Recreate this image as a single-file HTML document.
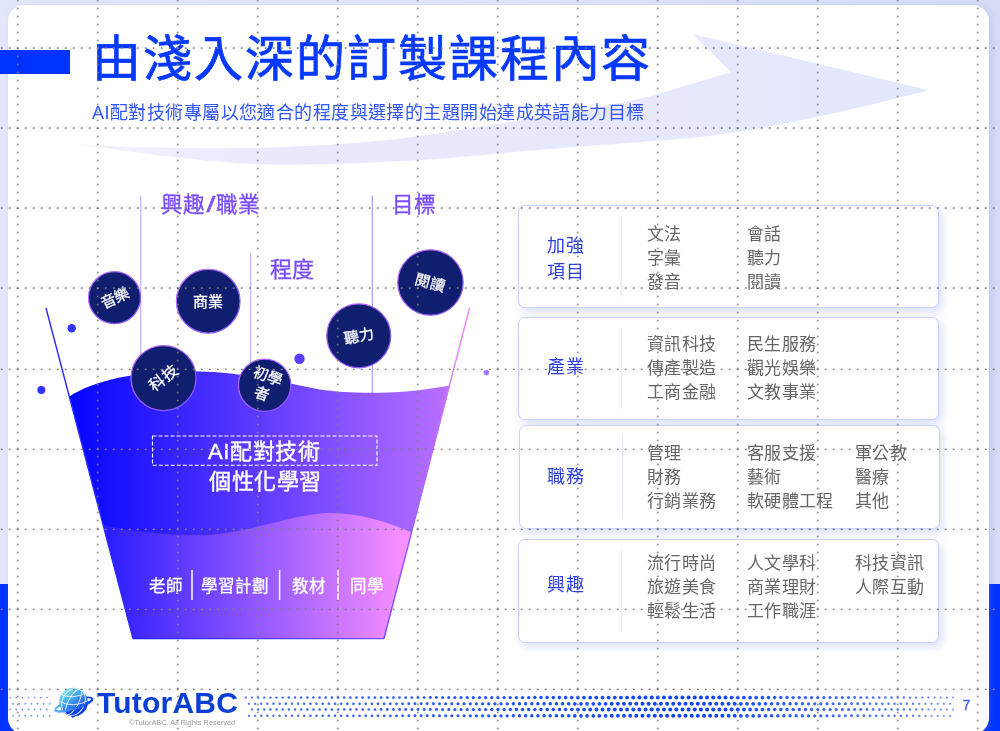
<!DOCTYPE html>
<html lang="zh-TW">
<head>
<meta charset="utf-8">
<style>
html,body{margin:0;padding:0;}
body{width:1000px;height:731px;position:relative;overflow:hidden;font-family:"Liberation Sans",sans-serif;background:linear-gradient(90deg,#e3e7fb 0%,#dfe5f9 50%,#d4dcf6 100%);}
.abs{position:absolute;white-space:nowrap;}
#blueL{position:absolute;left:0;top:584px;width:30px;height:147px;background:#0033ff;}
#blueR{position:absolute;left:960px;top:584px;width:40px;height:147px;background:#0033ff;}
#card{position:absolute;left:8px;top:5px;width:981px;height:729px;background:#fff;border-radius:16px;box-shadow:2px 2px 6px rgba(120,140,220,.25);}
.t{position:absolute;white-space:nowrap;line-height:1;}

.card{position:absolute;background:#fff;border:1px solid #c9d1ff;border-radius:7px;box-shadow:3px 4px 8px rgba(150,165,240,.35);box-sizing:border-box;}
.card .dv{position:absolute;left:102px;top:10px;bottom:10px;width:1px;background:#e4e8ff;}
.lab{position:absolute;color:#2b3ee0;font-size:18px;letter-spacing:0.6px;line-height:26.8px;white-space:nowrap;}
.col{position:absolute;color:#666;font-size:17px;line-height:24px;white-space:nowrap;letter-spacing:0.3px;}
</style>
</head>
<body>
<div id="blueL"></div>
<div id="blueR"></div>
<div id="card"></div>

<!-- swoosh -->
<svg class="abs" style="left:0;top:0" width="1000" height="731" viewBox="0 0 1000 731">
  <defs>
    <linearGradient id="sw" x1="0" y1="0" x2="1" y2="0">
      <stop offset="0" stop-color="#f4f2fe"/>
      <stop offset="0.25" stop-color="#ebe8fd"/>
      <stop offset="1" stop-color="#e4e8fc"/>
    </linearGradient>
  </defs>
  <path d="M73 143.4 C110 147, 200 149, 260 147.8 C330 146, 400 140, 450 131.5 C520 121, 600 108, 650 96.5 L731 72 L693 34 L929 90.2 C860 107, 790 126, 700 137 C640 143, 560 147, 450 158 C380 163, 300 166, 250 164 C200 161, 130 152, 73 143.4 Z" fill="url(#sw)"/>
</svg>

<!-- title -->
<div class="abs" style="left:0;top:49.6px;width:70px;height:24px;background:#0033ff"></div>
<div class="t" id="title" style="left:92px;top:34.6px;font-size:49px;letter-spacing:1.95px;color:#0639ff;-webkit-text-stroke:0.7px #0639ff;">由淺入深的訂製課程內容</div>
<div class="t" id="sub" style="left:92px;top:104px;font-size:18px;letter-spacing:0.44px;color:#3157ff;">AI配對技術專屬以您適合的程度與選擇的主題開始達成英語能力目標</div>


<!-- funnel -->
<svg class="abs" style="left:0;top:0" width="1000" height="731" viewBox="0 0 1000 731">
  <defs>
    <linearGradient id="gUp" gradientUnits="userSpaceOnUse" x1="69" y1="0" x2="450" y2="0">
      <stop offset="0" stop-color="#0205ff"/>
      <stop offset="1" stop-color="#bb70ff"/>
    </linearGradient>
    <linearGradient id="gLo" gradientUnits="userSpaceOnUse" x1="103" y1="0" x2="412" y2="0">
      <stop offset="0" stop-color="#291cff"/>
      <stop offset="1" stop-color="#fd92ff"/>
    </linearGradient>
    <linearGradient id="gR" gradientUnits="userSpaceOnUse" x1="0" y1="308" x2="0" y2="639">
      <stop offset="0" stop-color="#f28cff"/>
      <stop offset="1" stop-color="#6a48ff"/>
    </linearGradient>
    <linearGradient id="gB" gradientUnits="userSpaceOnUse" x1="133" y1="0" x2="384" y2="0">
      <stop offset="0" stop-color="#2020ff"/>
      <stop offset="1" stop-color="#7050ff"/>
    </linearGradient>
    <linearGradient id="gC" x1="0" y1="0" x2="1" y2="1">
      <stop offset="0" stop-color="#c070ff"/>
      <stop offset="1" stop-color="#8050ff"/>
    </linearGradient>
  </defs>
  <!-- vertical guide lines -->
  <line x1="140.7" y1="196" x2="140.7" y2="360" stroke="#c9b6ff" stroke-width="1.3"/>
  <line x1="250.6" y1="253" x2="250.6" y2="400" stroke="#c9b6ff" stroke-width="1.3"/>
  <line x1="372.3" y1="195.4" x2="372.3" y2="395" stroke="#b9a2ff" stroke-width="1.3"/>
  <!-- upper fill -->
  <path d="M69.4 396.5 C 95 380, 140 370, 200 371.5 C 240 372, 275 381, 320 389.5 C 350 394, 400 395, 450 385.5 L384 638.6 L133 638.6 Z" fill="url(#gUp)"/>
  <!-- lower fill -->
  <path d="M103.2 525 C 130 531, 160 535, 200 535.3 C 240 535, 280 518, 320 513.5 C 350 511, 385 520, 412.2 533 L384 638.6 L133 638.6 Z" fill="url(#gLo)"/>
  <!-- outline -->
  <line x1="46" y1="308" x2="133" y2="638.6" stroke="#2a2aff" stroke-width="1.4"/>
  <line x1="469.5" y1="308" x2="384" y2="638.6" stroke="url(#gR)" stroke-width="1.4"/>
  <line x1="133" y1="638.6" x2="384" y2="638.6" stroke="url(#gB)" stroke-width="1.4"/>
  <!-- dots -->
  <circle cx="71.7" cy="328.2" r="4.2" fill="#3333ff"/>
  <circle cx="41.3" cy="390" r="4" fill="#3333ff"/>
  <circle cx="299.5" cy="358.8" r="5.2" fill="#5a3cff"/>
  <circle cx="486.4" cy="372.6" r="2.8" fill="#a77aff"/>
  <!-- circles -->
  <g fill="#0f1e6e" stroke="url(#gC)" stroke-width="1.25">
    <circle cx="114.5" cy="297.6" r="26"/>
    <circle cx="208.2" cy="301.2" r="31.8"/>
    <circle cx="163.5" cy="378" r="32.5"/>
    <circle cx="264.6" cy="385.2" r="26.2"/>
    <circle cx="358.7" cy="335.8" r="32"/>
    <circle cx="430.4" cy="282.5" r="32.7"/>
  </g>
  <!-- dashed box -->
  <rect x="152.5" y="436" width="224.5" height="29.2" fill="none" stroke="#fff" stroke-width="1.1" stroke-dasharray="4 2"/>
  <!-- separators -->
  <g stroke="#fff" stroke-width="1.5">
    <line x1="192" y1="570" x2="192" y2="600"/>
    <line x1="279.6" y1="570" x2="279.6" y2="600"/>
    <line x1="338" y1="570" x2="338" y2="600"/>
  </g>
</svg>
<div class="t" id="l1" style="left:160.5px;top:194.5px;font-size:21.5px;color:#7b4dff;-webkit-text-stroke:0.35px #7b4dff;">興趣<span style="display:inline-block;transform:scaleX(1.5);margin:0 3px">/</span>職業</div>
<div class="t" id="l2" style="left:269.5px;top:258.5px;font-size:22px;color:#7b4dff;-webkit-text-stroke:0.35px #7b4dff;">程度</div>
<div class="t" id="l3" style="left:392px;top:195px;font-size:21.5px;color:#7b4dff;-webkit-text-stroke:0.35px #7b4dff;">目標</div>

<div class="t" style="left:114.5px;top:297.6px;font-size:15px;color:#fff;-webkit-text-stroke:0.3px #fff;transform:translate(-50%,-50%) rotate(-25deg);">音樂</div>
<div class="t" style="left:208.2px;top:301.2px;font-size:15px;color:#fff;-webkit-text-stroke:0.3px #fff;transform:translate(-50%,-50%);">商業</div>
<div class="t" style="left:163.5px;top:378px;font-size:15.5px;color:#fff;-webkit-text-stroke:0.3px #fff;transform:translate(-50%,-50%) rotate(-37deg);">科技</div>
<div class="t" style="left:264.6px;top:385.2px;font-size:15px;line-height:18px;color:#fff;-webkit-text-stroke:0.3px #fff;text-align:center;white-space:normal;width:34px;transform:translate(-50%,-50%) rotate(20deg);">初學<br>者</div>
<div class="t" style="left:358.7px;top:335.8px;font-size:15px;color:#fff;-webkit-text-stroke:0.3px #fff;transform:translate(-50%,-50%) rotate(-10deg);">聽力</div>
<div class="t" style="left:430.4px;top:282.5px;font-size:15px;color:#fff;-webkit-text-stroke:0.3px #fff;transform:translate(-50%,-50%) rotate(15deg);">閱讀</div>

<div class="t" id="f1" style="left:208px;top:441px;font-size:22px;letter-spacing:0.6px;color:#fff;-webkit-text-stroke:0.4px #fff;">AI配對技術</div>
<div class="t" id="f2" style="left:209px;top:471px;font-size:22px;letter-spacing:0.6px;color:#fff;-webkit-text-stroke:0.4px #fff;">個性化學習</div>
<div class="t" id="b1" style="left:149px;top:578px;font-size:16.5px;color:#fff;-webkit-text-stroke:0.3px #fff;">老師</div>
<div class="t" id="b2" style="left:201px;top:578px;font-size:16.5px;color:#fff;-webkit-text-stroke:0.3px #fff;">學習計劃</div>
<div class="t" id="b3" style="left:292px;top:578px;font-size:16.5px;color:#fff;-webkit-text-stroke:0.3px #fff;">教材</div>
<div class="t" id="b4" style="left:350px;top:578px;font-size:16.5px;color:#fff;-webkit-text-stroke:0.3px #fff;">同學</div>


<!-- cards -->
<div class="card" style="left:518px;top:204.5px;width:421px;height:103px;"><div class="dv"></div></div>
<div class="card" style="left:518px;top:317px;width:421px;height:103px;"><div class="dv"></div></div>
<div class="card" style="left:519px;top:425px;width:421px;height:103.5px;"><div class="dv"></div></div>
<div class="card" style="left:518px;top:539px;width:421px;height:103.5px;"><div class="dv"></div></div>

<div class="lab" id="lab1" style="left:547px;top:232.5px;">加強<br>項目</div>
<div class="lab" id="lab2" style="left:547px;top:353.5px;">產業</div>
<div class="lab" id="lab3" style="left:547px;top:463.5px;">職務</div>
<div class="lab" id="lab4" style="left:547px;top:571.5px;">興趣</div>

<div class="col" id="col5" style="left:647px;top:223.3px;">文法<br>字彙<br>發音</div>
<div class="col" id="col6" style="left:747px;top:223.3px;">會話<br>聽力<br>閱讀</div>
<div class="col" id="col7" style="left:647px;top:333.3px;">資訊科技<br>傳產製造<br>工商金融</div>
<div class="col" id="col8" style="left:747px;top:333.3px;">民生服務<br>觀光娛樂<br>文教事業</div>
<div class="col" id="col9" style="left:647px;top:442.3px;">管理<br>財務<br>行銷業務</div>
<div class="col" id="col10" style="left:747px;top:442.3px;">客服支援<br>藝術<br>軟硬體工程</div>
<div class="col" id="col11" style="left:855px;top:442.3px;">軍公教<br>醫療<br>其他</div>
<div class="col" id="col12" style="left:647px;top:552.3px;">流行時尚<br>旅遊美食<br>輕鬆生活</div>
<div class="col" id="col13" style="left:747px;top:552.3px;">人文學科<br>商業理財<br>工作職涯</div>
<div class="col" id="col14" style="left:855px;top:552.3px;">科技資訊<br>人際互動</div>


<!-- footer -->
<svg class="abs" style="left:0;top:0" width="1000" height="731" viewBox="0 0 1000 731">
  <g fill="#0d44ee"><circle cx="245.8" cy="697.6" r="1.15" fill-opacity="0.75"/><circle cx="252.0" cy="697.6" r="1.16" fill-opacity="0.76"/><circle cx="258.1" cy="697.6" r="1.17" fill-opacity="0.76"/><circle cx="264.2" cy="697.6" r="1.18" fill-opacity="0.76"/><circle cx="270.4" cy="697.6" r="1.19" fill-opacity="0.77"/><circle cx="276.5" cy="697.6" r="1.20" fill-opacity="0.77"/><circle cx="282.7" cy="697.6" r="1.21" fill-opacity="0.78"/><circle cx="288.8" cy="697.6" r="1.23" fill-opacity="0.78"/><circle cx="295.0" cy="697.6" r="1.24" fill-opacity="0.79"/><circle cx="301.1" cy="697.6" r="1.25" fill-opacity="0.79"/><circle cx="307.3" cy="697.6" r="1.26" fill-opacity="0.80"/><circle cx="313.4" cy="697.6" r="1.27" fill-opacity="0.80"/><circle cx="319.6" cy="697.6" r="1.28" fill-opacity="0.80"/><circle cx="325.7" cy="697.6" r="1.29" fill-opacity="0.81"/><circle cx="331.9" cy="697.6" r="1.30" fill-opacity="0.81"/><circle cx="338.0" cy="697.6" r="1.31" fill-opacity="0.82"/><circle cx="344.2" cy="697.6" r="1.32" fill-opacity="0.82"/><circle cx="350.3" cy="697.6" r="1.33" fill-opacity="0.83"/><circle cx="356.5" cy="697.6" r="1.34" fill-opacity="0.83"/><circle cx="362.6" cy="697.6" r="1.35" fill-opacity="0.84"/><circle cx="368.8" cy="697.6" r="1.36" fill-opacity="0.84"/><circle cx="374.9" cy="697.6" r="1.37" fill-opacity="0.85"/><circle cx="381.1" cy="697.6" r="1.38" fill-opacity="0.85"/><circle cx="387.2" cy="697.6" r="1.39" fill-opacity="0.85"/><circle cx="393.4" cy="697.6" r="1.40" fill-opacity="0.86"/><circle cx="399.5" cy="697.6" r="1.41" fill-opacity="0.86"/><circle cx="405.7" cy="697.6" r="1.43" fill-opacity="0.87"/><circle cx="411.8" cy="697.6" r="1.44" fill-opacity="0.87"/><circle cx="418.0" cy="697.6" r="1.45" fill-opacity="0.88"/><circle cx="424.1" cy="697.6" r="1.46" fill-opacity="0.88"/><circle cx="430.3" cy="697.6" r="1.48" fill-opacity="0.89"/><circle cx="436.4" cy="697.6" r="1.49" fill-opacity="0.89"/><circle cx="442.6" cy="697.6" r="1.51" fill-opacity="0.89"/><circle cx="448.7" cy="697.6" r="1.52" fill-opacity="0.90"/><circle cx="454.9" cy="697.6" r="1.54" fill-opacity="0.90"/><circle cx="461.0" cy="697.6" r="1.55" fill-opacity="0.90"/><circle cx="467.2" cy="697.6" r="1.57" fill-opacity="0.91"/><circle cx="473.3" cy="697.6" r="1.58" fill-opacity="0.91"/><circle cx="479.5" cy="697.6" r="1.60" fill-opacity="0.91"/><circle cx="485.6" cy="697.6" r="1.61" fill-opacity="0.91"/><circle cx="491.8" cy="697.6" r="1.63" fill-opacity="0.92"/><circle cx="497.9" cy="697.6" r="1.64" fill-opacity="0.92"/><circle cx="504.1" cy="697.6" r="1.66" fill-opacity="0.92"/><circle cx="510.2" cy="697.6" r="1.68" fill-opacity="0.92"/><circle cx="516.4" cy="697.6" r="1.69" fill-opacity="0.93"/><circle cx="522.5" cy="697.6" r="1.71" fill-opacity="0.93"/><circle cx="528.7" cy="697.6" r="1.72" fill-opacity="0.93"/><circle cx="534.8" cy="697.6" r="1.74" fill-opacity="0.93"/><circle cx="541.0" cy="697.6" r="1.75" fill-opacity="0.94"/><circle cx="547.1" cy="697.6" r="1.77" fill-opacity="0.94"/><circle cx="553.3" cy="697.6" r="1.78" fill-opacity="0.94"/><circle cx="559.4" cy="697.6" r="1.80" fill-opacity="0.94"/><circle cx="565.6" cy="697.6" r="1.81" fill-opacity="0.95"/><circle cx="571.7" cy="697.6" r="1.83" fill-opacity="0.95"/><circle cx="577.9" cy="697.6" r="1.84" fill-opacity="0.95"/><circle cx="584.0" cy="697.6" r="1.86" fill-opacity="0.95"/><circle cx="590.2" cy="697.6" r="1.88" fill-opacity="0.96"/><circle cx="596.3" cy="697.6" r="1.89" fill-opacity="0.96"/><circle cx="602.5" cy="697.6" r="1.91" fill-opacity="0.96"/><circle cx="608.6" cy="697.6" r="1.92" fill-opacity="0.96"/><circle cx="614.8" cy="697.6" r="1.94" fill-opacity="0.97"/><circle cx="620.9" cy="697.6" r="1.95" fill-opacity="0.97"/><circle cx="627.1" cy="697.6" r="1.97" fill-opacity="0.97"/><circle cx="633.2" cy="697.6" r="1.98" fill-opacity="0.97"/><circle cx="639.4" cy="697.6" r="2.00" fill-opacity="0.98"/><circle cx="645.5" cy="697.6" r="2.00" fill-opacity="0.98"/><circle cx="651.7" cy="697.6" r="2.00" fill-opacity="0.98"/><circle cx="657.8" cy="697.6" r="2.00" fill-opacity="0.98"/><circle cx="664.0" cy="697.6" r="2.00" fill-opacity="0.99"/><circle cx="670.1" cy="697.6" r="2.00" fill-opacity="0.99"/><circle cx="676.3" cy="697.6" r="2.00" fill-opacity="0.99"/><circle cx="682.4" cy="697.6" r="2.00" fill-opacity="0.99"/><circle cx="688.6" cy="697.6" r="2.00" fill-opacity="1.00"/><circle cx="694.7" cy="697.6" r="2.00" fill-opacity="1.00"/><circle cx="700.9" cy="697.6" r="2.00" fill-opacity="1.00"/><circle cx="707.0" cy="697.6" r="2.00" fill-opacity="0.99"/><circle cx="713.2" cy="697.6" r="2.00" fill-opacity="0.98"/><circle cx="719.3" cy="697.6" r="2.00" fill-opacity="0.97"/><circle cx="725.5" cy="697.6" r="1.98" fill-opacity="0.96"/><circle cx="731.6" cy="697.6" r="1.96" fill-opacity="0.95"/><circle cx="737.8" cy="697.6" r="1.93" fill-opacity="0.94"/><circle cx="743.9" cy="697.6" r="1.91" fill-opacity="0.93"/><circle cx="750.1" cy="697.6" r="1.88" fill-opacity="0.92"/><circle cx="756.2" cy="697.6" r="1.86" fill-opacity="0.91"/><circle cx="762.4" cy="697.6" r="1.84" fill-opacity="0.90"/><circle cx="768.5" cy="697.6" r="1.81" fill-opacity="0.89"/><circle cx="774.7" cy="697.6" r="1.79" fill-opacity="0.88"/><circle cx="780.8" cy="697.6" r="1.77" fill-opacity="0.87"/><circle cx="787.0" cy="697.6" r="1.74" fill-opacity="0.86"/><circle cx="793.1" cy="697.6" r="1.72" fill-opacity="0.85"/><circle cx="799.3" cy="697.6" r="1.70" fill-opacity="0.84"/><circle cx="805.4" cy="697.6" r="1.67" fill-opacity="0.83"/><circle cx="811.6" cy="697.6" r="1.65" fill-opacity="0.82"/><circle cx="817.7" cy="697.6" r="1.62" fill-opacity="0.81"/><circle cx="823.9" cy="697.6" r="1.60" fill-opacity="0.80"/><circle cx="830.0" cy="697.6" r="1.58" fill-opacity="0.80"/><circle cx="836.2" cy="697.6" r="1.55" fill-opacity="0.79"/><circle cx="842.3" cy="697.6" r="1.53" fill-opacity="0.78"/><circle cx="848.5" cy="697.6" r="1.51" fill-opacity="0.77"/><circle cx="854.6" cy="697.6" r="1.48" fill-opacity="0.76"/><circle cx="860.8" cy="697.6" r="1.45" fill-opacity="0.75"/><circle cx="866.9" cy="697.6" r="1.42" fill-opacity="0.74"/><circle cx="873.1" cy="697.6" r="1.39" fill-opacity="0.73"/><circle cx="879.2" cy="697.6" r="1.36" fill-opacity="0.72"/><circle cx="885.4" cy="697.6" r="1.33" fill-opacity="0.71"/><circle cx="891.5" cy="697.6" r="1.30" fill-opacity="0.70"/><circle cx="897.7" cy="697.6" r="1.27" fill-opacity="0.69"/><circle cx="903.8" cy="697.6" r="1.24" fill-opacity="0.68"/><circle cx="910.0" cy="697.6" r="1.21" fill-opacity="0.67"/><circle cx="916.1" cy="697.6" r="1.18" fill-opacity="0.66"/><circle cx="922.3" cy="697.6" r="1.15" fill-opacity="0.65"/><circle cx="928.4" cy="697.6" r="1.12" fill-opacity="0.64"/><circle cx="934.6" cy="697.6" r="1.09" fill-opacity="0.63"/><circle cx="940.7" cy="697.6" r="1.06" fill-opacity="0.62"/><circle cx="946.9" cy="697.6" r="1.03" fill-opacity="0.61"/><circle cx="953.0" cy="697.6" r="1.00" fill-opacity="0.60"/><circle cx="248.9" cy="703.8" r="1.16" fill-opacity="0.75"/><circle cx="255.1" cy="703.8" r="1.17" fill-opacity="0.76"/><circle cx="261.2" cy="703.8" r="1.18" fill-opacity="0.76"/><circle cx="267.3" cy="703.8" r="1.19" fill-opacity="0.77"/><circle cx="273.5" cy="703.8" r="1.20" fill-opacity="0.77"/><circle cx="279.6" cy="703.8" r="1.21" fill-opacity="0.78"/><circle cx="285.8" cy="703.8" r="1.22" fill-opacity="0.78"/><circle cx="291.9" cy="703.8" r="1.23" fill-opacity="0.78"/><circle cx="298.1" cy="703.8" r="1.24" fill-opacity="0.79"/><circle cx="304.2" cy="703.8" r="1.25" fill-opacity="0.79"/><circle cx="310.4" cy="703.8" r="1.26" fill-opacity="0.80"/><circle cx="316.5" cy="703.8" r="1.27" fill-opacity="0.80"/><circle cx="322.7" cy="703.8" r="1.28" fill-opacity="0.81"/><circle cx="328.8" cy="703.8" r="1.29" fill-opacity="0.81"/><circle cx="335.0" cy="703.8" r="1.30" fill-opacity="0.82"/><circle cx="341.1" cy="703.8" r="1.31" fill-opacity="0.82"/><circle cx="347.3" cy="703.8" r="1.33" fill-opacity="0.82"/><circle cx="353.4" cy="703.8" r="1.34" fill-opacity="0.83"/><circle cx="359.6" cy="703.8" r="1.35" fill-opacity="0.83"/><circle cx="365.7" cy="703.8" r="1.36" fill-opacity="0.84"/><circle cx="371.9" cy="703.8" r="1.37" fill-opacity="0.84"/><circle cx="378.0" cy="703.8" r="1.38" fill-opacity="0.85"/><circle cx="384.2" cy="703.8" r="1.39" fill-opacity="0.85"/><circle cx="390.3" cy="703.8" r="1.40" fill-opacity="0.86"/><circle cx="396.5" cy="703.8" r="1.41" fill-opacity="0.86"/><circle cx="402.6" cy="703.8" r="1.42" fill-opacity="0.87"/><circle cx="408.8" cy="703.8" r="1.43" fill-opacity="0.87"/><circle cx="414.9" cy="703.8" r="1.44" fill-opacity="0.87"/><circle cx="421.1" cy="703.8" r="1.45" fill-opacity="0.88"/><circle cx="427.2" cy="703.8" r="1.47" fill-opacity="0.88"/><circle cx="433.4" cy="703.8" r="1.48" fill-opacity="0.89"/><circle cx="439.5" cy="703.8" r="1.50" fill-opacity="0.89"/><circle cx="445.7" cy="703.8" r="1.51" fill-opacity="0.90"/><circle cx="451.8" cy="703.8" r="1.53" fill-opacity="0.90"/><circle cx="458.0" cy="703.8" r="1.54" fill-opacity="0.90"/><circle cx="464.1" cy="703.8" r="1.56" fill-opacity="0.91"/><circle cx="470.3" cy="703.8" r="1.58" fill-opacity="0.91"/><circle cx="476.4" cy="703.8" r="1.59" fill-opacity="0.91"/><circle cx="482.6" cy="703.8" r="1.61" fill-opacity="0.91"/><circle cx="488.7" cy="703.8" r="1.62" fill-opacity="0.92"/><circle cx="494.9" cy="703.8" r="1.64" fill-opacity="0.92"/><circle cx="501.0" cy="703.8" r="1.65" fill-opacity="0.92"/><circle cx="507.2" cy="703.8" r="1.67" fill-opacity="0.92"/><circle cx="513.3" cy="703.8" r="1.68" fill-opacity="0.93"/><circle cx="519.5" cy="703.8" r="1.70" fill-opacity="0.93"/><circle cx="525.6" cy="703.8" r="1.71" fill-opacity="0.93"/><circle cx="531.8" cy="703.8" r="1.73" fill-opacity="0.93"/><circle cx="537.9" cy="703.8" r="1.74" fill-opacity="0.94"/><circle cx="544.1" cy="703.8" r="1.76" fill-opacity="0.94"/><circle cx="550.2" cy="703.8" r="1.78" fill-opacity="0.94"/><circle cx="556.4" cy="703.8" r="1.79" fill-opacity="0.94"/><circle cx="562.5" cy="703.8" r="1.81" fill-opacity="0.95"/><circle cx="568.7" cy="703.8" r="1.82" fill-opacity="0.95"/><circle cx="574.8" cy="703.8" r="1.84" fill-opacity="0.95"/><circle cx="581.0" cy="703.8" r="1.85" fill-opacity="0.95"/><circle cx="587.1" cy="703.8" r="1.87" fill-opacity="0.95"/><circle cx="593.3" cy="703.8" r="1.88" fill-opacity="0.96"/><circle cx="599.4" cy="703.8" r="1.90" fill-opacity="0.96"/><circle cx="605.6" cy="703.8" r="1.91" fill-opacity="0.96"/><circle cx="611.7" cy="703.8" r="1.93" fill-opacity="0.96"/><circle cx="617.9" cy="703.8" r="1.94" fill-opacity="0.97"/><circle cx="624.0" cy="703.8" r="1.96" fill-opacity="0.97"/><circle cx="630.2" cy="703.8" r="1.98" fill-opacity="0.97"/><circle cx="636.3" cy="703.8" r="1.99" fill-opacity="0.97"/><circle cx="642.5" cy="703.8" r="2.00" fill-opacity="0.98"/><circle cx="648.6" cy="703.8" r="2.00" fill-opacity="0.98"/><circle cx="654.8" cy="703.8" r="2.00" fill-opacity="0.98"/><circle cx="660.9" cy="703.8" r="2.00" fill-opacity="0.98"/><circle cx="667.1" cy="703.8" r="2.00" fill-opacity="0.99"/><circle cx="673.2" cy="703.8" r="2.00" fill-opacity="0.99"/><circle cx="679.4" cy="703.8" r="2.00" fill-opacity="0.99"/><circle cx="685.5" cy="703.8" r="2.00" fill-opacity="0.99"/><circle cx="691.7" cy="703.8" r="2.00" fill-opacity="1.00"/><circle cx="697.8" cy="703.8" r="2.00" fill-opacity="1.00"/><circle cx="704.0" cy="703.8" r="2.00" fill-opacity="0.99"/><circle cx="710.1" cy="703.8" r="2.00" fill-opacity="0.98"/><circle cx="716.3" cy="703.8" r="2.00" fill-opacity="0.97"/><circle cx="722.4" cy="703.8" r="1.99" fill-opacity="0.96"/><circle cx="728.6" cy="703.8" r="1.97" fill-opacity="0.95"/><circle cx="734.7" cy="703.8" r="1.94" fill-opacity="0.95"/><circle cx="740.9" cy="703.8" r="1.92" fill-opacity="0.94"/><circle cx="747.0" cy="703.8" r="1.90" fill-opacity="0.93"/><circle cx="753.2" cy="703.8" r="1.87" fill-opacity="0.92"/><circle cx="759.3" cy="703.8" r="1.85" fill-opacity="0.91"/><circle cx="765.5" cy="703.8" r="1.83" fill-opacity="0.90"/><circle cx="771.6" cy="703.8" r="1.80" fill-opacity="0.89"/><circle cx="777.8" cy="703.8" r="1.78" fill-opacity="0.88"/><circle cx="783.9" cy="703.8" r="1.75" fill-opacity="0.87"/><circle cx="790.1" cy="703.8" r="1.73" fill-opacity="0.86"/><circle cx="796.2" cy="703.8" r="1.71" fill-opacity="0.85"/><circle cx="802.4" cy="703.8" r="1.68" fill-opacity="0.84"/><circle cx="808.5" cy="703.8" r="1.66" fill-opacity="0.83"/><circle cx="814.7" cy="703.8" r="1.64" fill-opacity="0.82"/><circle cx="820.8" cy="703.8" r="1.61" fill-opacity="0.81"/><circle cx="827.0" cy="703.8" r="1.59" fill-opacity="0.80"/><circle cx="833.1" cy="703.8" r="1.56" fill-opacity="0.79"/><circle cx="839.3" cy="703.8" r="1.54" fill-opacity="0.78"/><circle cx="845.4" cy="703.8" r="1.52" fill-opacity="0.77"/><circle cx="851.6" cy="703.8" r="1.49" fill-opacity="0.76"/><circle cx="857.7" cy="703.8" r="1.46" fill-opacity="0.75"/><circle cx="863.9" cy="703.8" r="1.43" fill-opacity="0.74"/><circle cx="870.0" cy="703.8" r="1.40" fill-opacity="0.73"/><circle cx="876.2" cy="703.8" r="1.37" fill-opacity="0.72"/><circle cx="882.3" cy="703.8" r="1.34" fill-opacity="0.71"/><circle cx="888.5" cy="703.8" r="1.31" fill-opacity="0.70"/><circle cx="894.6" cy="703.8" r="1.29" fill-opacity="0.69"/><circle cx="900.8" cy="703.8" r="1.26" fill-opacity="0.68"/><circle cx="906.9" cy="703.8" r="1.23" fill-opacity="0.67"/><circle cx="913.1" cy="703.8" r="1.20" fill-opacity="0.66"/><circle cx="919.2" cy="703.8" r="1.17" fill-opacity="0.65"/><circle cx="925.4" cy="703.8" r="1.14" fill-opacity="0.65"/><circle cx="931.5" cy="703.8" r="1.11" fill-opacity="0.64"/><circle cx="937.7" cy="703.8" r="1.08" fill-opacity="0.63"/><circle cx="943.8" cy="703.8" r="1.05" fill-opacity="0.62"/><circle cx="950.0" cy="703.8" r="1.02" fill-opacity="0.61"/><circle cx="252.0" cy="709.5" r="1.16" fill-opacity="0.76"/><circle cx="258.1" cy="709.5" r="1.17" fill-opacity="0.76"/><circle cx="264.3" cy="709.5" r="1.18" fill-opacity="0.76"/><circle cx="270.4" cy="709.5" r="1.19" fill-opacity="0.77"/><circle cx="276.6" cy="709.5" r="1.20" fill-opacity="0.77"/><circle cx="282.7" cy="709.5" r="1.21" fill-opacity="0.78"/><circle cx="288.9" cy="709.5" r="1.23" fill-opacity="0.78"/><circle cx="295.0" cy="709.5" r="1.24" fill-opacity="0.79"/><circle cx="301.2" cy="709.5" r="1.25" fill-opacity="0.79"/><circle cx="307.3" cy="709.5" r="1.26" fill-opacity="0.80"/><circle cx="313.5" cy="709.5" r="1.27" fill-opacity="0.80"/><circle cx="319.6" cy="709.5" r="1.28" fill-opacity="0.80"/><circle cx="325.8" cy="709.5" r="1.29" fill-opacity="0.81"/><circle cx="331.9" cy="709.5" r="1.30" fill-opacity="0.81"/><circle cx="338.1" cy="709.5" r="1.31" fill-opacity="0.82"/><circle cx="344.2" cy="709.5" r="1.32" fill-opacity="0.82"/><circle cx="350.4" cy="709.5" r="1.33" fill-opacity="0.83"/><circle cx="356.5" cy="709.5" r="1.34" fill-opacity="0.83"/><circle cx="362.7" cy="709.5" r="1.35" fill-opacity="0.84"/><circle cx="368.8" cy="709.5" r="1.36" fill-opacity="0.84"/><circle cx="375.0" cy="709.5" r="1.37" fill-opacity="0.85"/><circle cx="381.1" cy="709.5" r="1.38" fill-opacity="0.85"/><circle cx="387.3" cy="709.5" r="1.39" fill-opacity="0.85"/><circle cx="393.4" cy="709.5" r="1.40" fill-opacity="0.86"/><circle cx="399.6" cy="709.5" r="1.42" fill-opacity="0.86"/><circle cx="405.7" cy="709.5" r="1.43" fill-opacity="0.87"/><circle cx="411.9" cy="709.5" r="1.44" fill-opacity="0.87"/><circle cx="418.0" cy="709.5" r="1.45" fill-opacity="0.88"/><circle cx="424.2" cy="709.5" r="1.46" fill-opacity="0.88"/><circle cx="430.3" cy="709.5" r="1.48" fill-opacity="0.89"/><circle cx="436.5" cy="709.5" r="1.49" fill-opacity="0.89"/><circle cx="442.6" cy="709.5" r="1.51" fill-opacity="0.89"/><circle cx="448.8" cy="709.5" r="1.52" fill-opacity="0.90"/><circle cx="454.9" cy="709.5" r="1.54" fill-opacity="0.90"/><circle cx="461.1" cy="709.5" r="1.55" fill-opacity="0.90"/><circle cx="467.2" cy="709.5" r="1.57" fill-opacity="0.91"/><circle cx="473.4" cy="709.5" r="1.58" fill-opacity="0.91"/><circle cx="479.5" cy="709.5" r="1.60" fill-opacity="0.91"/><circle cx="485.7" cy="709.5" r="1.61" fill-opacity="0.91"/><circle cx="491.8" cy="709.5" r="1.63" fill-opacity="0.92"/><circle cx="498.0" cy="709.5" r="1.64" fill-opacity="0.92"/><circle cx="504.1" cy="709.5" r="1.66" fill-opacity="0.92"/><circle cx="510.3" cy="709.5" r="1.68" fill-opacity="0.92"/><circle cx="516.4" cy="709.5" r="1.69" fill-opacity="0.93"/><circle cx="522.6" cy="709.5" r="1.71" fill-opacity="0.93"/><circle cx="528.7" cy="709.5" r="1.72" fill-opacity="0.93"/><circle cx="534.9" cy="709.5" r="1.74" fill-opacity="0.93"/><circle cx="541.0" cy="709.5" r="1.75" fill-opacity="0.94"/><circle cx="547.2" cy="709.5" r="1.77" fill-opacity="0.94"/><circle cx="553.3" cy="709.5" r="1.78" fill-opacity="0.94"/><circle cx="559.5" cy="709.5" r="1.80" fill-opacity="0.94"/><circle cx="565.6" cy="709.5" r="1.81" fill-opacity="0.95"/><circle cx="571.8" cy="709.5" r="1.83" fill-opacity="0.95"/><circle cx="577.9" cy="709.5" r="1.84" fill-opacity="0.95"/><circle cx="584.1" cy="709.5" r="1.86" fill-opacity="0.95"/><circle cx="590.2" cy="709.5" r="1.88" fill-opacity="0.96"/><circle cx="596.4" cy="709.5" r="1.89" fill-opacity="0.96"/><circle cx="602.5" cy="709.5" r="1.91" fill-opacity="0.96"/><circle cx="608.7" cy="709.5" r="1.92" fill-opacity="0.96"/><circle cx="614.8" cy="709.5" r="1.94" fill-opacity="0.97"/><circle cx="621.0" cy="709.5" r="1.95" fill-opacity="0.97"/><circle cx="627.1" cy="709.5" r="1.97" fill-opacity="0.97"/><circle cx="633.3" cy="709.5" r="1.98" fill-opacity="0.97"/><circle cx="639.4" cy="709.5" r="2.00" fill-opacity="0.98"/><circle cx="645.6" cy="709.5" r="2.00" fill-opacity="0.98"/><circle cx="651.7" cy="709.5" r="2.00" fill-opacity="0.98"/><circle cx="657.9" cy="709.5" r="2.00" fill-opacity="0.98"/><circle cx="664.0" cy="709.5" r="2.00" fill-opacity="0.99"/><circle cx="670.2" cy="709.5" r="2.00" fill-opacity="0.99"/><circle cx="676.3" cy="709.5" r="2.00" fill-opacity="0.99"/><circle cx="682.5" cy="709.5" r="2.00" fill-opacity="0.99"/><circle cx="688.6" cy="709.5" r="2.00" fill-opacity="1.00"/><circle cx="694.8" cy="709.5" r="2.00" fill-opacity="1.00"/><circle cx="700.9" cy="709.5" r="2.00" fill-opacity="1.00"/><circle cx="707.1" cy="709.5" r="2.00" fill-opacity="0.99"/><circle cx="713.2" cy="709.5" r="2.00" fill-opacity="0.98"/><circle cx="719.4" cy="709.5" r="2.00" fill-opacity="0.97"/><circle cx="725.5" cy="709.5" r="1.98" fill-opacity="0.96"/><circle cx="731.7" cy="709.5" r="1.96" fill-opacity="0.95"/><circle cx="737.8" cy="709.5" r="1.93" fill-opacity="0.94"/><circle cx="744.0" cy="709.5" r="1.91" fill-opacity="0.93"/><circle cx="750.1" cy="709.5" r="1.88" fill-opacity="0.92"/><circle cx="756.3" cy="709.5" r="1.86" fill-opacity="0.91"/><circle cx="762.4" cy="709.5" r="1.84" fill-opacity="0.90"/><circle cx="768.6" cy="709.5" r="1.81" fill-opacity="0.89"/><circle cx="774.7" cy="709.5" r="1.79" fill-opacity="0.88"/><circle cx="780.9" cy="709.5" r="1.77" fill-opacity="0.87"/><circle cx="787.0" cy="709.5" r="1.74" fill-opacity="0.86"/><circle cx="793.2" cy="709.5" r="1.72" fill-opacity="0.85"/><circle cx="799.3" cy="709.5" r="1.69" fill-opacity="0.84"/><circle cx="805.5" cy="709.5" r="1.67" fill-opacity="0.83"/><circle cx="811.6" cy="709.5" r="1.65" fill-opacity="0.82"/><circle cx="817.8" cy="709.5" r="1.62" fill-opacity="0.81"/><circle cx="823.9" cy="709.5" r="1.60" fill-opacity="0.80"/><circle cx="830.1" cy="709.5" r="1.58" fill-opacity="0.80"/><circle cx="836.2" cy="709.5" r="1.55" fill-opacity="0.79"/><circle cx="842.4" cy="709.5" r="1.53" fill-opacity="0.78"/><circle cx="848.5" cy="709.5" r="1.51" fill-opacity="0.77"/><circle cx="854.7" cy="709.5" r="1.48" fill-opacity="0.76"/><circle cx="860.8" cy="709.5" r="1.45" fill-opacity="0.75"/><circle cx="867.0" cy="709.5" r="1.42" fill-opacity="0.74"/><circle cx="873.1" cy="709.5" r="1.39" fill-opacity="0.73"/><circle cx="879.3" cy="709.5" r="1.36" fill-opacity="0.72"/><circle cx="885.4" cy="709.5" r="1.33" fill-opacity="0.71"/><circle cx="891.6" cy="709.5" r="1.30" fill-opacity="0.70"/><circle cx="897.7" cy="709.5" r="1.27" fill-opacity="0.69"/><circle cx="903.9" cy="709.5" r="1.24" fill-opacity="0.68"/><circle cx="910.0" cy="709.5" r="1.21" fill-opacity="0.67"/><circle cx="916.2" cy="709.5" r="1.18" fill-opacity="0.66"/><circle cx="922.3" cy="709.5" r="1.15" fill-opacity="0.65"/><circle cx="928.5" cy="709.5" r="1.12" fill-opacity="0.64"/><circle cx="934.6" cy="709.5" r="1.09" fill-opacity="0.63"/><circle cx="940.8" cy="709.5" r="1.06" fill-opacity="0.62"/><circle cx="946.9" cy="709.5" r="1.03" fill-opacity="0.61"/><circle cx="953.1" cy="709.5" r="1.00" fill-opacity="0.60"/><circle cx="248.9" cy="715.8" r="1.16" fill-opacity="0.75"/><circle cx="255.1" cy="715.8" r="1.17" fill-opacity="0.76"/><circle cx="261.2" cy="715.8" r="1.18" fill-opacity="0.76"/><circle cx="267.3" cy="715.8" r="1.19" fill-opacity="0.77"/><circle cx="273.5" cy="715.8" r="1.20" fill-opacity="0.77"/><circle cx="279.6" cy="715.8" r="1.21" fill-opacity="0.78"/><circle cx="285.8" cy="715.8" r="1.22" fill-opacity="0.78"/><circle cx="291.9" cy="715.8" r="1.23" fill-opacity="0.78"/><circle cx="298.1" cy="715.8" r="1.24" fill-opacity="0.79"/><circle cx="304.2" cy="715.8" r="1.25" fill-opacity="0.79"/><circle cx="310.4" cy="715.8" r="1.26" fill-opacity="0.80"/><circle cx="316.5" cy="715.8" r="1.27" fill-opacity="0.80"/><circle cx="322.7" cy="715.8" r="1.28" fill-opacity="0.81"/><circle cx="328.8" cy="715.8" r="1.29" fill-opacity="0.81"/><circle cx="335.0" cy="715.8" r="1.30" fill-opacity="0.82"/><circle cx="341.1" cy="715.8" r="1.31" fill-opacity="0.82"/><circle cx="347.3" cy="715.8" r="1.33" fill-opacity="0.82"/><circle cx="353.4" cy="715.8" r="1.34" fill-opacity="0.83"/><circle cx="359.6" cy="715.8" r="1.35" fill-opacity="0.83"/><circle cx="365.7" cy="715.8" r="1.36" fill-opacity="0.84"/><circle cx="371.9" cy="715.8" r="1.37" fill-opacity="0.84"/><circle cx="378.0" cy="715.8" r="1.38" fill-opacity="0.85"/><circle cx="384.2" cy="715.8" r="1.39" fill-opacity="0.85"/><circle cx="390.3" cy="715.8" r="1.40" fill-opacity="0.86"/><circle cx="396.5" cy="715.8" r="1.41" fill-opacity="0.86"/><circle cx="402.6" cy="715.8" r="1.42" fill-opacity="0.87"/><circle cx="408.8" cy="715.8" r="1.43" fill-opacity="0.87"/><circle cx="414.9" cy="715.8" r="1.44" fill-opacity="0.87"/><circle cx="421.1" cy="715.8" r="1.45" fill-opacity="0.88"/><circle cx="427.2" cy="715.8" r="1.47" fill-opacity="0.88"/><circle cx="433.4" cy="715.8" r="1.48" fill-opacity="0.89"/><circle cx="439.5" cy="715.8" r="1.50" fill-opacity="0.89"/><circle cx="445.7" cy="715.8" r="1.51" fill-opacity="0.90"/><circle cx="451.8" cy="715.8" r="1.53" fill-opacity="0.90"/><circle cx="458.0" cy="715.8" r="1.54" fill-opacity="0.90"/><circle cx="464.1" cy="715.8" r="1.56" fill-opacity="0.91"/><circle cx="470.3" cy="715.8" r="1.58" fill-opacity="0.91"/><circle cx="476.4" cy="715.8" r="1.59" fill-opacity="0.91"/><circle cx="482.6" cy="715.8" r="1.61" fill-opacity="0.91"/><circle cx="488.7" cy="715.8" r="1.62" fill-opacity="0.92"/><circle cx="494.9" cy="715.8" r="1.64" fill-opacity="0.92"/><circle cx="501.0" cy="715.8" r="1.65" fill-opacity="0.92"/><circle cx="507.2" cy="715.8" r="1.67" fill-opacity="0.92"/><circle cx="513.3" cy="715.8" r="1.68" fill-opacity="0.93"/><circle cx="519.5" cy="715.8" r="1.70" fill-opacity="0.93"/><circle cx="525.6" cy="715.8" r="1.71" fill-opacity="0.93"/><circle cx="531.8" cy="715.8" r="1.73" fill-opacity="0.93"/><circle cx="537.9" cy="715.8" r="1.74" fill-opacity="0.94"/><circle cx="544.1" cy="715.8" r="1.76" fill-opacity="0.94"/><circle cx="550.2" cy="715.8" r="1.78" fill-opacity="0.94"/><circle cx="556.4" cy="715.8" r="1.79" fill-opacity="0.94"/><circle cx="562.5" cy="715.8" r="1.81" fill-opacity="0.95"/><circle cx="568.7" cy="715.8" r="1.82" fill-opacity="0.95"/><circle cx="574.8" cy="715.8" r="1.84" fill-opacity="0.95"/><circle cx="581.0" cy="715.8" r="1.85" fill-opacity="0.95"/><circle cx="587.1" cy="715.8" r="1.87" fill-opacity="0.95"/><circle cx="593.3" cy="715.8" r="1.88" fill-opacity="0.96"/><circle cx="599.4" cy="715.8" r="1.90" fill-opacity="0.96"/><circle cx="605.6" cy="715.8" r="1.91" fill-opacity="0.96"/><circle cx="611.7" cy="715.8" r="1.93" fill-opacity="0.96"/><circle cx="617.9" cy="715.8" r="1.94" fill-opacity="0.97"/><circle cx="624.0" cy="715.8" r="1.96" fill-opacity="0.97"/><circle cx="630.2" cy="715.8" r="1.98" fill-opacity="0.97"/><circle cx="636.3" cy="715.8" r="1.99" fill-opacity="0.97"/><circle cx="642.5" cy="715.8" r="2.00" fill-opacity="0.98"/><circle cx="648.6" cy="715.8" r="2.00" fill-opacity="0.98"/><circle cx="654.8" cy="715.8" r="2.00" fill-opacity="0.98"/><circle cx="660.9" cy="715.8" r="2.00" fill-opacity="0.98"/><circle cx="667.1" cy="715.8" r="2.00" fill-opacity="0.99"/><circle cx="673.2" cy="715.8" r="2.00" fill-opacity="0.99"/><circle cx="679.4" cy="715.8" r="2.00" fill-opacity="0.99"/><circle cx="685.5" cy="715.8" r="2.00" fill-opacity="0.99"/><circle cx="691.7" cy="715.8" r="2.00" fill-opacity="1.00"/><circle cx="697.8" cy="715.8" r="2.00" fill-opacity="1.00"/><circle cx="704.0" cy="715.8" r="2.00" fill-opacity="0.99"/><circle cx="710.1" cy="715.8" r="2.00" fill-opacity="0.98"/><circle cx="716.3" cy="715.8" r="2.00" fill-opacity="0.97"/><circle cx="722.4" cy="715.8" r="1.99" fill-opacity="0.96"/><circle cx="728.6" cy="715.8" r="1.97" fill-opacity="0.95"/><circle cx="734.7" cy="715.8" r="1.94" fill-opacity="0.95"/><circle cx="740.9" cy="715.8" r="1.92" fill-opacity="0.94"/><circle cx="747.0" cy="715.8" r="1.90" fill-opacity="0.93"/><circle cx="753.2" cy="715.8" r="1.87" fill-opacity="0.92"/><circle cx="759.3" cy="715.8" r="1.85" fill-opacity="0.91"/><circle cx="765.5" cy="715.8" r="1.83" fill-opacity="0.90"/><circle cx="771.6" cy="715.8" r="1.80" fill-opacity="0.89"/><circle cx="777.8" cy="715.8" r="1.78" fill-opacity="0.88"/><circle cx="783.9" cy="715.8" r="1.75" fill-opacity="0.87"/><circle cx="790.1" cy="715.8" r="1.73" fill-opacity="0.86"/><circle cx="796.2" cy="715.8" r="1.71" fill-opacity="0.85"/><circle cx="802.4" cy="715.8" r="1.68" fill-opacity="0.84"/><circle cx="808.5" cy="715.8" r="1.66" fill-opacity="0.83"/><circle cx="814.7" cy="715.8" r="1.64" fill-opacity="0.82"/><circle cx="820.8" cy="715.8" r="1.61" fill-opacity="0.81"/><circle cx="827.0" cy="715.8" r="1.59" fill-opacity="0.80"/><circle cx="833.1" cy="715.8" r="1.56" fill-opacity="0.79"/><circle cx="839.3" cy="715.8" r="1.54" fill-opacity="0.78"/><circle cx="845.4" cy="715.8" r="1.52" fill-opacity="0.77"/><circle cx="851.6" cy="715.8" r="1.49" fill-opacity="0.76"/><circle cx="857.7" cy="715.8" r="1.46" fill-opacity="0.75"/><circle cx="863.9" cy="715.8" r="1.43" fill-opacity="0.74"/><circle cx="870.0" cy="715.8" r="1.40" fill-opacity="0.73"/><circle cx="876.2" cy="715.8" r="1.37" fill-opacity="0.72"/><circle cx="882.3" cy="715.8" r="1.34" fill-opacity="0.71"/><circle cx="888.5" cy="715.8" r="1.31" fill-opacity="0.70"/><circle cx="894.6" cy="715.8" r="1.29" fill-opacity="0.69"/><circle cx="900.8" cy="715.8" r="1.26" fill-opacity="0.68"/><circle cx="906.9" cy="715.8" r="1.23" fill-opacity="0.67"/><circle cx="913.1" cy="715.8" r="1.20" fill-opacity="0.66"/><circle cx="919.2" cy="715.8" r="1.17" fill-opacity="0.65"/><circle cx="925.4" cy="715.8" r="1.14" fill-opacity="0.65"/><circle cx="931.5" cy="715.8" r="1.11" fill-opacity="0.64"/><circle cx="937.7" cy="715.8" r="1.08" fill-opacity="0.63"/><circle cx="943.8" cy="715.8" r="1.05" fill-opacity="0.62"/><circle cx="950.0" cy="715.8" r="1.02" fill-opacity="0.61"/></g>
  <g fill="#2a58e8"><circle cx="10.2" cy="697.6" r="0.95" fill-opacity="0.6"/><circle cx="16.3" cy="697.6" r="0.95" fill-opacity="0.6"/><circle cx="22.4" cy="697.6" r="0.95" fill-opacity="0.6"/><circle cx="28.5" cy="697.6" r="0.95" fill-opacity="0.6"/><circle cx="34.6" cy="697.6" r="0.95" fill-opacity="0.6"/><circle cx="40.7" cy="697.6" r="0.95" fill-opacity="0.6"/><circle cx="46.8" cy="697.6" r="0.95" fill-opacity="0.6"/><circle cx="13.1" cy="703.8" r="0.95" fill-opacity="0.6"/><circle cx="19.2" cy="703.8" r="0.95" fill-opacity="0.6"/><circle cx="25.3" cy="703.8" r="0.95" fill-opacity="0.6"/><circle cx="31.4" cy="703.8" r="0.95" fill-opacity="0.6"/><circle cx="37.5" cy="703.8" r="0.95" fill-opacity="0.6"/><circle cx="43.6" cy="703.8" r="0.95" fill-opacity="0.6"/><circle cx="49.7" cy="703.8" r="0.95" fill-opacity="0.6"/><circle cx="10.2" cy="709.5" r="0.95" fill-opacity="0.6"/><circle cx="16.3" cy="709.5" r="0.95" fill-opacity="0.6"/><circle cx="22.4" cy="709.5" r="0.95" fill-opacity="0.6"/><circle cx="28.5" cy="709.5" r="0.95" fill-opacity="0.6"/><circle cx="34.6" cy="709.5" r="0.95" fill-opacity="0.6"/><circle cx="40.7" cy="709.5" r="0.95" fill-opacity="0.6"/><circle cx="46.8" cy="709.5" r="0.95" fill-opacity="0.6"/><circle cx="13.1" cy="715.8" r="0.95" fill-opacity="0.6"/><circle cx="19.2" cy="715.8" r="0.95" fill-opacity="0.6"/><circle cx="25.3" cy="715.8" r="0.95" fill-opacity="0.6"/><circle cx="31.4" cy="715.8" r="0.95" fill-opacity="0.6"/><circle cx="37.5" cy="715.8" r="0.95" fill-opacity="0.6"/><circle cx="43.6" cy="715.8" r="0.95" fill-opacity="0.6"/><circle cx="49.7" cy="715.8" r="0.95" fill-opacity="0.6"/></g>
</svg>
<svg class="abs" style="left:50px;top:682px" width="50" height="40" viewBox="0 0 50 40">
  <defs>
    <linearGradient id="gl" x1="0.1" y1="0.05" x2="0.75" y2="0.95">
      <stop offset="0" stop-color="#8ef6f2"/>
      <stop offset="0.35" stop-color="#4cb4ec"/>
      <stop offset="0.7" stop-color="#2a6ee6"/>
      <stop offset="1" stop-color="#0634d8"/>
    </linearGradient>
    <linearGradient id="go" x1="0" y1="0" x2="1" y2="0">
      <stop offset="0" stop-color="#64b4f2"/>
      <stop offset="0.5" stop-color="#2a78ec"/>
      <stop offset="1" stop-color="#0a48e6"/>
    </linearGradient>
    <clipPath id="sph"><circle cx="23.5" cy="20" r="14.3"/></clipPath>
  </defs>
  <ellipse cx="23.8" cy="22.4" rx="19.2" ry="4.4" transform="rotate(-17 23.8 22.4)" fill="none" stroke="url(#go)" stroke-width="2"/>
  <path d="M18.5 31 L28 32.5 L22.5 36 Z" fill="#0a3ad8"/>
  <circle cx="23.5" cy="20" r="14.3" fill="url(#gl)"/>
  <path d="M9 27 Q24 30 38 19 L38 36 L9 36 Z" fill="#0a3ee0" clip-path="url(#sph)" opacity="0.9"/>
  <g fill="none" stroke="#fff" stroke-width="0.9" opacity="0.9" clip-path="url(#sph)">
    <ellipse cx="23.5" cy="20" rx="5" ry="14.3" transform="rotate(28 23.5 20)"/>
    <ellipse cx="23.5" cy="20" rx="11" ry="14.3" transform="rotate(28 23.5 20)"/>
    <path d="M8 11 Q22 19 38 10"/>
    <path d="M8 19 Q24 27 39 18"/>
  </g>
  <path d="M5.2 28 A19.2 4.4 -17 0 0 42.4 16.8" fill="none" stroke="url(#go)" stroke-width="2.2"/>
</svg>
<div class="t" style="left:97px;top:688px;font-size:30px;font-weight:bold;color:#0b3fd4;letter-spacing:0.2px;">TutorABC</div>
<div class="t" style="left:129px;top:719px;font-size:7.4px;color:#9a9a9a;">©TutorABC. All Rights Reserved</div>
<div class="t" style="left:962.5px;top:698px;font-size:14px;color:#4a66ff;-webkit-text-stroke:0.45px #4a66ff;">7</div>

<!-- grid overlay -->
<svg class="abs" style="left:0;top:0;mix-blend-mode:difference" width="1000" height="731" viewBox="0 0 1000 731">
  <defs>
    <pattern id="vp" patternUnits="userSpaceOnUse" x="16.8" y="-0.3" width="80" height="8"><rect x="0.2" y="0.05" width="1.4" height="1.3" fill="#fff"/></pattern>
    <pattern id="hp" patternUnits="userSpaceOnUse" x="0.8" y="0" width="8" height="1000"><rect x="0.2" y="0" width="1.4" height="1000" fill="#fff"/></pattern>
  </defs>
  <g opacity="0.72">
  <rect x="0" y="0" width="1000" height="731" fill="url(#vp)"/>
  <rect x="0" y="47.35" width="1000" height="1.4" fill="url(#hp)"/>
  <rect x="0" y="127.35" width="1000" height="1.4" fill="url(#hp)"/>
  <rect x="0" y="207.35" width="1000" height="1.4" fill="url(#hp)"/>
  <rect x="0" y="287.35" width="1000" height="1.4" fill="url(#hp)"/>
  <rect x="0" y="368.70" width="1000" height="1.4" fill="url(#hp)"/>
  <rect x="0" y="448.70" width="1000" height="1.4" fill="url(#hp)"/>
  <rect x="0" y="528.70" width="1000" height="1.4" fill="url(#hp)"/>
  <rect x="0" y="608.70" width="1000" height="1.4" fill="url(#hp)"/>
  <rect x="0" y="688.70" width="1000" height="1.4" fill="url(#hp)"/>
  </g>
</svg>

</body>
</html>
